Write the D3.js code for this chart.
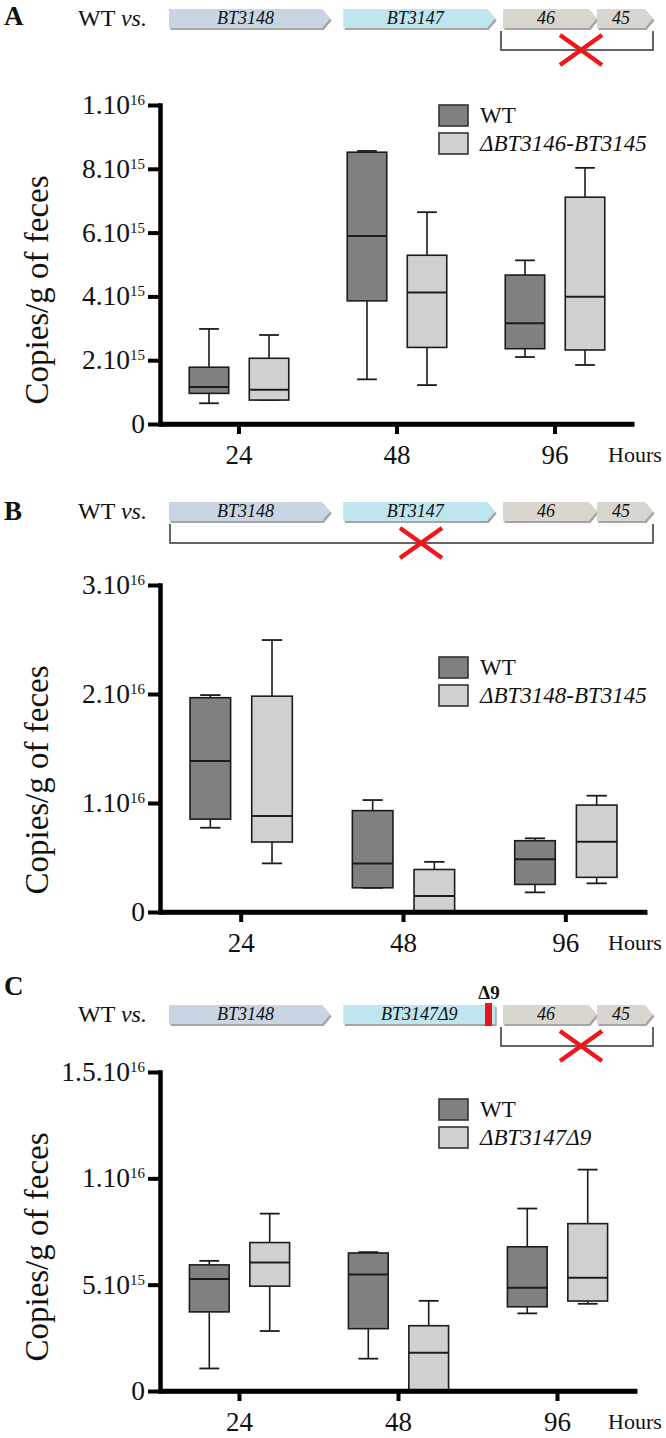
<!DOCTYPE html>
<html><head><meta charset="utf-8">
<script src="https://cdn.jsdelivr.net/npm/d3@7"></script>
<style>
body{margin:0;background:#fff}
svg{display:block}
text{font-family:"Liberation Serif","Times New Roman",serif;fill:#111}
</style>
</head><body>
<svg id="chart" width="666" height="1438"></svg>
<script>
// ---------------- DATA ----------------
const hours = ["24", "48", "96"];
const groups = ["WT", "MUT"];
// box statistics per hour: [min, q1, median, q3, max] in units of 1e15 copies/g
const aWT  = [[0.65, 0.96, 1.16, 1.78, 2.98], [1.40, 3.86, 5.89, 8.52, 8.56], [2.10, 2.36, 3.16, 4.67, 5.13]];
const aMUT = [[0.75, 0.75, 1.07, 2.06, 2.79], [1.22, 2.40, 4.12, 5.29, 6.64], [1.85, 2.32, 3.99, 7.11, 8.03]];
const bWT  = [[7.73, 8.52, 13.85, 19.66, 19.90], [2.22, 2.22, 4.46, 9.30, 10.27], [1.80, 2.53, 4.83, 6.54, 6.76]];
const bMUT = [[4.46, 6.42, 8.80, 19.80, 24.95], [0.00, 0.00, 1.47, 3.90, 4.60], [2.63, 3.18, 6.45, 9.81, 10.67]];
const cWT  = [[1.06, 3.72, 5.27, 5.93, 6.12], [1.52, 2.93, 5.48, 6.49, 6.53], [3.65, 3.96, 4.85, 6.78, 8.58]];
const cMUT = [[2.82, 4.93, 6.04, 6.98, 8.34], [0.00, 0.00, 1.80, 3.07, 4.24], [4.10, 4.23, 5.32, 7.87, 10.41]];

const aTicks = [0, 2, 4, 6, 8, 10];
const aTickLabels = [["0", ""], ["2.10", "15"], ["4.10", "15"], ["6.10", "15"], ["8.10", "15"], ["1.10", "16"]];
const bTicks = [0, 10, 20, 30];
const bTickLabels = [["0", ""], ["1.10", "16"], ["2.10", "16"], ["3.10", "16"]];
const cTicks = [0, 5, 10, 15];
const cTickLabels = [["0", ""], ["5.10", "15"], ["1.10", "16"], ["1.5.10", "16"]];

const aLegend = ["WT", "ΔBT3146-BT3145"];
const bLegend = ["WT", "ΔBT3148-BT3145"];
const cLegend = ["WT", "ΔBT3147Δ9"];

const genesAB = ["BT3148", "BT3147", "46", "45"];
const genesC  = ["BT3148", "BT3147Δ9", "46", "45"];
const panelLetters = ["A", "B", "C"];
const yTitle = "Copies/g of feces";
const xUnit = "Hours";

// ---------------- DRAW ----------------
const svg = d3.select("#chart");
const fills = {WT: "#808080", MUT: "#d0d0d0"};
const strokeC = "#1c1c1c";

function drawPanel(cfg) {
  const g = svg.append("g");
  const y = d3.scaleLinear().domain([0, cfg.max]).range([cfg.y0, cfg.yTop]);
  const x = d3.scaleBand().domain(hours).range([160, cfg.xEnd]);
  const bw = x.bandwidth();
  const xg = d3.scalePoint().domain(groups).range([-bw * 0.19, bw * 0.19]);
  const boxW = bw * 0.25;

  // y axis
  const ya = g.append("g").attr("transform", "translate(160,0)")
    .call(d3.axisLeft(y).tickValues(cfg.ticks).tickSizeInner(12).tickSizeOuter(0).tickFormat(""));
  ya.select(".domain").attr("stroke", "#000").attr("stroke-width", 4.5).attr("stroke-linecap", "square");
  ya.selectAll(".tick line").attr("stroke", "#000").attr("stroke-width", 4);
  // y tick labels with superscripts
  cfg.ticks.forEach((t, i) => {
    const lab = cfg.tickLabels[i];
    const tx = g.append("text").attr("x", 145).attr("y", y(t) + 9)
      .attr("text-anchor", "end").attr("font-size", 27.5);
    tx.append("tspan").text(lab[0]);
    if (lab[1]) tx.append("tspan").attr("dy", -9).attr("font-size", 15).text(lab[1]);
  });

  // x axis
  const xa = g.append("g").attr("transform", `translate(0,${cfg.y0})`)
    .call(d3.axisBottom(x).tickSizeInner(10).tickSizeOuter(0).tickFormat(""));
  xa.select(".domain").attr("stroke", "#000").attr("stroke-width", 4.5);
  xa.selectAll(".tick line").attr("stroke", "#000").attr("stroke-width", 4);
  hours.forEach(h => {
    g.append("text").attr("x", x(h) + bw / 2).attr("y", cfg.y0 + 40)
      .attr("text-anchor", "middle").attr("font-size", 27).text(h);
  });
  g.append("text").attr("x", 608).attr("y", cfg.y0 + 38).attr("font-size", 22).text(xUnit);

  // y title
  g.append("text").attr("transform", `translate(48,${cfg.titleY}) rotate(-90)`)
    .attr("text-anchor", "middle").attr("font-size", 33).text(yTitle);

  // boxes
  const data = [];
  hours.forEach((h, i) => {
    data.push({h, grp: "WT", s: cfg.wt[i]});
    data.push({h, grp: "MUT", s: cfg.mut[i]});
  });
  const bx = g.selectAll("g.box").data(data).join("g").attr("class", "box")
    .attr("transform", d => `translate(${x(d.h) + bw / 2 + xg(d.grp)},0)`);
  bx.append("line").attr("x1", 0).attr("x2", 0)
    .attr("y1", d => y(d.s[0])).attr("y2", d => y(d.s[4]))
    .attr("stroke", strokeC).attr("stroke-width", 1.6);
  [0, 4].forEach(k => {
    bx.append("line").attr("x1", -boxW / 4).attr("x2", boxW / 4)
      .attr("y1", d => y(d.s[k])).attr("y2", d => y(d.s[k]))
      .attr("stroke", strokeC).attr("stroke-width", 1.8);
  });
  bx.append("rect").attr("x", -boxW / 2).attr("width", boxW)
    .attr("y", d => y(d.s[3])).attr("height", d => y(d.s[1]) - y(d.s[3]))
    .attr("fill", d => fills[d.grp]).attr("stroke", strokeC).attr("stroke-width", 1.6);
  bx.append("line").attr("x1", -boxW / 2).attr("x2", boxW / 2)
    .attr("y1", d => y(d.s[2])).attr("y2", d => y(d.s[2]))
    .attr("stroke", strokeC).attr("stroke-width", 2);

  // x axis line again on top so boxes at 0 sit on it
  g.append("line").attr("x1", 160).attr("x2", cfg.xEnd).attr("y1", cfg.y0).attr("y2", cfg.y0)
    .attr("stroke", "#000").attr("stroke-width", 4.5);

  // legend
  const lg = g.selectAll("g.leg").data(groups).join("g").attr("class", "leg")
    .attr("transform", (d, i) => `translate(439,${cfg.legY + i * 28})`);
  lg.append("rect").attr("width", 29).attr("height", 21)
    .attr("fill", d => fills[d]).attr("stroke", "#333").attr("stroke-width", 1.6);
  lg.append("text").attr("x", 41).attr("y", 18).attr("font-size", 23)
    .attr("font-style", (d, i) => i ? "italic" : "normal")
    .text((d, i) => cfg.legend[i]);
}

function drawHeader(cfg) {
  const g = svg.append("g");
  g.append("text").attr("x", 4).attr("y", cfg.letterY).attr("font-size", 27)
    .attr("font-weight", "bold").text(cfg.letter);
  const wt = g.append("text").attr("x", 78).attr("y", cfg.top + 17).attr("font-size", 24);
  wt.append("tspan").text("WT ");
  wt.append("tspan").attr("font-style", "italic").text("vs.");

  const gx = d3.scaleLinear().domain([0, 1]).range([169, 653]);
  const spans = [[0, 0.333], [0.360, 0.674], [0.690, 0.884], [0.884, 1]];
  const colors = ["#c9d5e3", "#bfe5ef", "#d9d6d0", "#d9d6d0"];
  const h = 19, tip = 8;
  cfg.genes.forEach((name, i) => {
    const x0 = gx(spans[i][0]), x1 = gx(spans[i][1]);
    const noTip = cfg.cut && i === 1;
    const t = noTip ? 0 : tip;
    const pts = [[x0, 0], [x1 - t, 0], [x1, h / 2], [x1 - t, h], [x0, h]];
    const line = d3.line();
    g.append("path").attr("d", line(pts) + "Z")
      .attr("transform", `translate(1.5,${cfg.top + 2})`).attr("fill", "#8f8f8f").attr("opacity", 0.8);
    g.append("path").attr("d", line(pts) + "Z")
      .attr("transform", `translate(0,${cfg.top})`).attr("fill", colors[i]);
    const cx = (x0 + x1 - t) / 2;
    g.append("text").attr("x", cx).attr("y", cfg.top + 15).attr("text-anchor", "middle")
      .attr("font-size", 18).attr("font-style", "italic").attr("fill", "#222").text(name);
  });
  if (cfg.cut) {
    g.append("rect").attr("x", 485).attr("y", cfg.top - 2).attr("width", 7).attr("height", h + 4).attr("fill", "#e8161b");
    g.append("text").attr("x", 489).attr("y", cfg.top - 6).attr("text-anchor", "middle")
      .attr("font-size", 19).attr("font-weight", "bold").text("Δ9");
  }
  // bracket
  const by = cfg.top + 41;
  g.append("path").attr("d", `M${cfg.bx0},${cfg.top + 22}V${by}H${cfg.bx1}V${cfg.top + 22}`)
    .attr("fill", "none").attr("stroke", "#333").attr("stroke-width", 1.5);
  // red cross
  const cx = cfg.crossX, cy = by;
  g.append("path").attr("d", `M${cx - 21},${cy - 15}L${cx + 21},${cy + 15}M${cx + 21},${cy - 15}L${cx - 21},${cy + 15}`)
    .attr("stroke", "#f0161b").attr("stroke-width", 4.5).attr("fill", "none");
}

drawHeader({letter: panelLetters[0], letterY: 25, top: 9, genes: genesAB, bx0: 501, bx1: 653, crossX: 581});
drawHeader({letter: panelLetters[1], letterY: 520, top: 502, genes: genesAB, bx0: 170, bx1: 653, crossX: 421});
drawHeader({letter: panelLetters[2], letterY: 995, top: 1005, genes: genesC, cut: true, bx0: 501, bx1: 653, crossX: 581});

drawPanel({y0: 424, yTop: 105, max: 10, xEnd: 634, ticks: aTicks, tickLabels: aTickLabels, wt: aWT, mut: aMUT, legend: aLegend, legY: 105, titleY: 290});
drawPanel({y0: 912, yTop: 585, max: 30, xEnd: 647, ticks: bTicks, tickLabels: bTickLabels, wt: bWT, mut: bMUT, legend: bLegend, legY: 657, titleY: 780});
drawPanel({y0: 1391, yTop: 1072, max: 15, xEnd: 637, ticks: cTicks, tickLabels: cTickLabels, wt: cWT, mut: cMUT, legend: cLegend, legY: 1099, titleY: 1247});
</script>
</body></html>
